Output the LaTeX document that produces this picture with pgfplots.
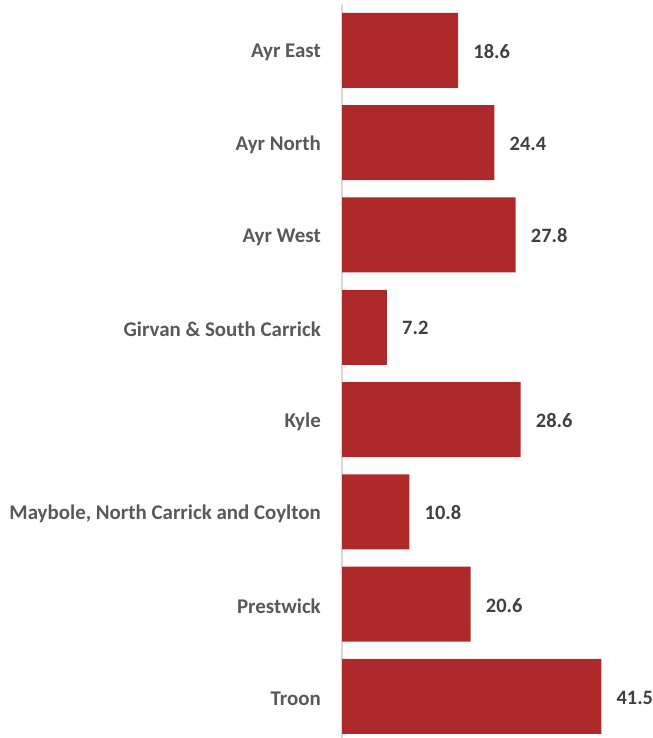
\documentclass[border=0pt]{standalone}
\usepackage{pgfplots}
\pgfplotsset{compat=1.18}
\usepackage{fontspec}
\setmainfont{Carlito}
\definecolor{barred}{RGB}{173,41,43}
\definecolor{labgray}{RGB}{89,89,89}
\definecolor{valgray}{RGB}{64,64,64}
\definecolor{axgray}{RGB}{217,217,217}
\begin{document}
\begin{tikzpicture}
\useasboundingbox (0,0) rectangle (653bp,738bp);
\begin{axis}[
  at={(342bp,0bp)}, anchor=south west,
  scale only axis,
  width=312.5bp, height=733.8bp,
  xmin=0, xmax=50,
  ymin=-0.5, ymax=7.45,
  y dir=reverse,
  xbar, bar width=75bp, bar shift=0pt,
  axis x line=none,
  axis y line*=left,
  y axis line style={draw=axgray, line width=1.2bp, -},
  ytick={0,1,2,3,4,5,6,7},
  yticklabels={Ayr East,Ayr North,Ayr West,Girvan \& South Carrick,Kyle,{Maybole, North Carrick and Coylton},Prestwick,Troon},
  major tick length=0pt,
  yticklabel style={font=\fontsize{21}{24}\selectfont\bfseries, text=labgray, anchor=east, inner sep=0pt, xshift=-21bp, yshift=-2bp},
  nodes near coords,
  nodes near coords style={font=\fontsize{20.5}{24}\selectfont\bfseries, text=valgray, anchor=west, inner sep=0pt, xshift=15bp, yshift=-1bp},
  point meta=explicit symbolic,
  clip=false,
]
\addplot[fill=barred, draw=none] coordinates {
  (18.6,0) [18.6]
  (24.4,1) [24.4]
  (27.8,2) [27.8]
  (7.2,3) [7.2]
  (28.6,4) [28.6]
  (10.8,5) [10.8]
  (20.6,6) [20.6]
  (41.5,7) [41.5]
};
\end{axis}
\end{tikzpicture}
\end{document}
